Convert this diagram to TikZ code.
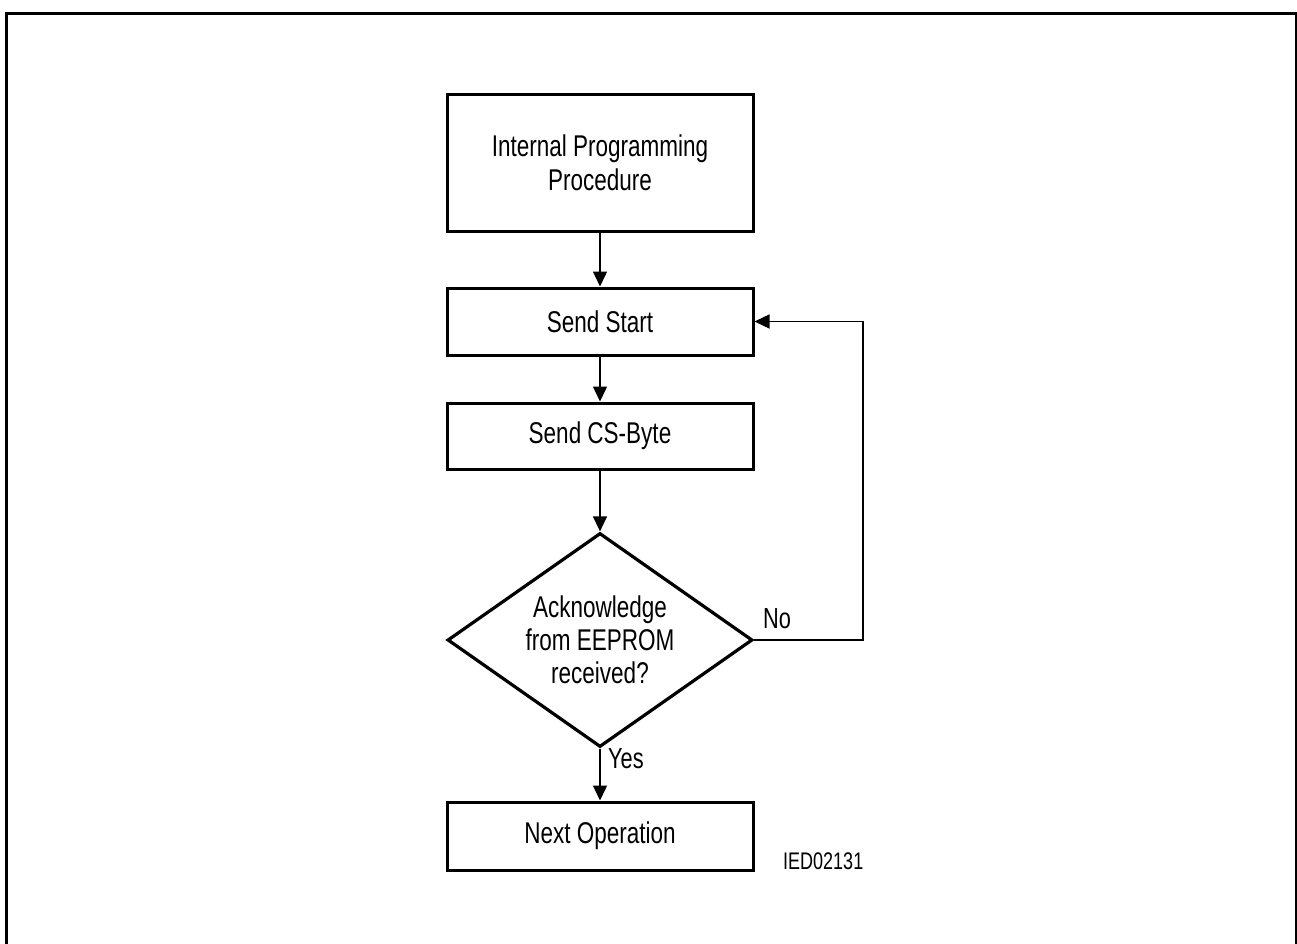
\documentclass[tikz,border=0pt]{standalone}
\usepackage{fontspec}
\setmainfont[FakeStretch=0.75]{Liberation Sans}
\usetikzlibrary{arrows.meta,shapes.geometric}
\begin{document}
\begin{tikzpicture}[x=1pt,y=-1pt,
  stepbox/.style={draw,line width=3pt,minimum width=306pt,inner sep=0pt,align=center,
    font=\fontsize{30}{34}\selectfont},
  decbox/.style={draw,diamond,line width=3.2pt,minimum width=305pt,minimum height=214pt,inner sep=0pt},
  conn/.style={line width=1.4pt,-{Triangle[length=15pt,width=14pt]}},
  lbl/.style={inner sep=0pt,font=\fontsize{29}{32}\selectfont},
  frame/.style={line width=3pt}]
\useasboundingbox (0,0) rectangle (1297,944);
\draw[frame] (6.2,950) -- (6.2,13.7) -- (1296,13.7) -- (1296,950);

\node[stepbox,minimum height=136pt] (ipp) at (600,163) {Internal Programming\\Procedure};
\node[stepbox,minimum height=67pt] (start) at (600,321.5) {Send Start};
\node[stepbox,minimum height=66pt] (cs) at (600,436) {Send CS-Byte};
\node[decbox] (dec) at (600,640) {};
\node[align=center,inner sep=0pt,font=\fontsize{30}{33}\selectfont] (dectext) at (600,640) {Acknowledge\\from EEPROM\\received?};
\node[stepbox,minimum height=68pt] (next) at (600,836) {Next Operation};
\coordinate (loop) at (863,321.5);

\draw[conn] (ipp) -- (start);
\draw[conn] (start) -- (cs);
\draw[conn] (cs) -- (dec);
\draw[conn] (dec) -- (next);
\draw[conn] (dec.east) -- (dec.east -| loop) -- (loop) -- (start.east);

\node[lbl,anchor=base west] (no) at (763,628) {No};
\node[lbl,anchor=base west] (yes) at (608,768) {Yes};
\node[inner sep=0pt,anchor=base west,font=\fontsize{24}{28}\selectfont] (id) at (783,869) {IED02131};
\end{tikzpicture}
\end{document}
